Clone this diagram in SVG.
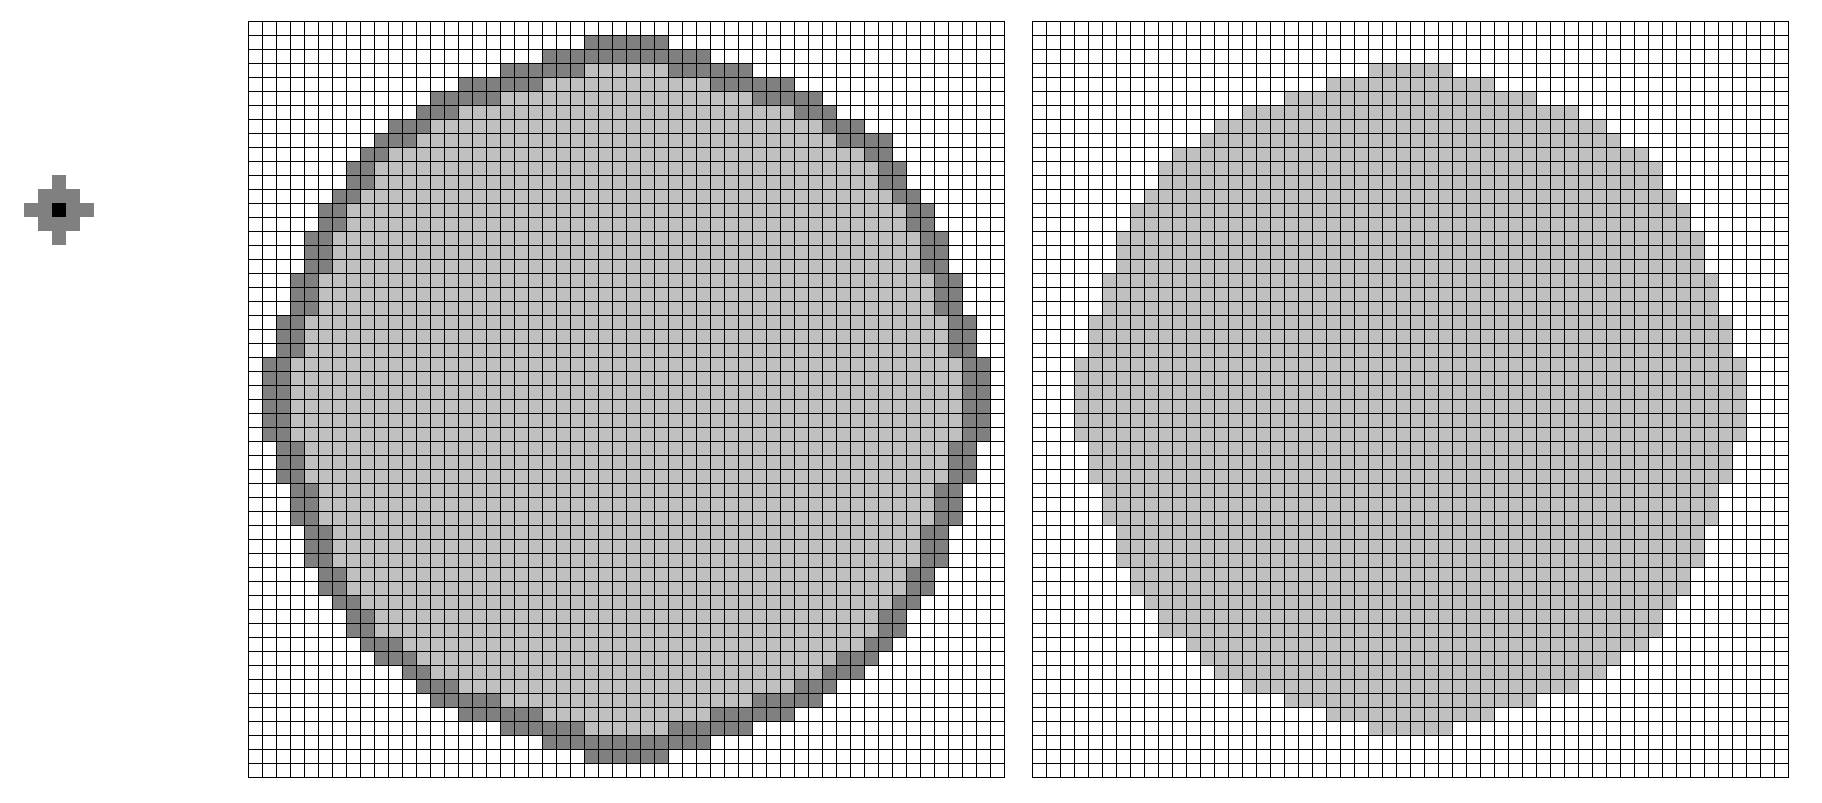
<svg xmlns="http://www.w3.org/2000/svg" xmlns:xlink="http://www.w3.org/1999/xlink" width="1822" height="803" viewBox="0 0 1822 803">
<style>
.dark{fill:#808080}
.light{fill:#c0c0c0}
.black{fill:#000000}
.grid{fill:none;stroke:#000000;stroke-width:1;stroke-linecap:square}
</style>
<defs>
<path id="gridlines" class="grid" d="M248.5 21.5v756
m14-756v756m14-756v756m14-756v756m14-756v756m14-756v756m14-756v756m14-756v756m14-756v756m14-756v756
m14-756v756m14-756v756m14-756v756m14-756v756m14-756v756m14-756v756m14-756v756m14-756v756m14-756v756
m14-756v756m14-756v756m14-756v756m14-756v756m14-756v756m14-756v756m14-756v756m14-756v756m14-756v756
m14-756v756m14-756v756m14-756v756m14-756v756m14-756v756m14-756v756m14-756v756m14-756v756m14-756v756
m14-756v756m14-756v756m14-756v756m14-756v756m14-756v756m14-756v756m14-756v756m14-756v756m14-756v756
m14-756v756m14-756v756m14-756v756m14-756v756m14-756v756m14-756v756m14-756v756m14-756v756m14-756v756
M248.5 21.5h756
m-756 14h756m-756 14h756m-756 14h756m-756 14h756m-756 14h756m-756 14h756m-756 14h756m-756 14h756m-756 14h756
m-756 14h756m-756 14h756m-756 14h756m-756 14h756m-756 14h756m-756 14h756m-756 14h756m-756 14h756m-756 14h756
m-756 14h756m-756 14h756m-756 14h756m-756 14h756m-756 14h756m-756 14h756m-756 14h756m-756 14h756m-756 14h756
m-756 14h756m-756 14h756m-756 14h756m-756 14h756m-756 14h756m-756 14h756m-756 14h756m-756 14h756m-756 14h756
m-756 14h756m-756 14h756m-756 14h756m-756 14h756m-756 14h756m-756 14h756m-756 14h756m-756 14h756m-756 14h756
m-756 14h756m-756 14h756m-756 14h756m-756 14h756m-756 14h756m-756 14h756m-756 14h756m-756 14h756m-756 14h756"/>
<g id="eroded" class="light" transform="translate(248.5 21.5) scale(14)">
<rect x="24" y="3" width="6" height="1"/>
<rect x="21" y="4" width="12" height="1"/>
<rect x="18" y="5" width="18" height="1"/>
<rect x="15" y="6" width="24" height="1"/>
<rect x="13" y="7" width="28" height="1"/>
<rect x="12" y="8" width="30" height="1"/>
<rect x="10" y="9" width="34" height="1"/>
<rect x="9" y="10" width="36" height="2"/>
<rect x="8" y="12" width="38" height="1"/>
<rect x="7" y="13" width="40" height="2"/>
<rect x="6" y="15" width="42" height="3"/>
<rect x="5" y="18" width="44" height="3"/>
<rect x="4" y="21" width="46" height="3"/>
<rect x="3" y="24" width="48" height="6"/>
<rect x="4" y="30" width="46" height="3"/>
<rect x="5" y="33" width="44" height="3"/>
<rect x="6" y="36" width="42" height="3"/>
<rect x="7" y="39" width="40" height="2"/>
<rect x="8" y="41" width="38" height="1"/>
<rect x="9" y="42" width="36" height="2"/>
<rect x="11" y="44" width="33" height="1"/>
<rect x="12" y="45" width="30" height="1"/>
<rect x="13" y="46" width="28" height="1"/>
<rect x="15" y="47" width="24" height="1"/>
<rect x="18" y="48" width="18" height="1"/>
<rect x="21" y="49" width="12" height="1"/>
<rect x="24" y="50" width="6" height="1"/>
</g>
</defs>

<g id="structuring-element">
<rect class="dark" x="52" y="175" width="14" height="14"/>
<rect class="dark" x="38" y="189" width="42" height="14"/>
<rect class="dark" x="24" y="203" width="70" height="14"/>
<rect class="dark" x="38" y="217" width="42" height="14"/>
<rect class="dark" x="52" y="231" width="14" height="14"/>
<rect class="black" x="52" y="203" width="14" height="14"/>
</g>

<g id="input-grid">
<rect x="248.5" y="21.5" width="756" height="756" fill="#ffffff"/>
<g id="disk" class="dark" transform="translate(248.5 21.5) scale(14)">
<rect x="24" y="1" width="6" height="1"/>
<rect x="21" y="2" width="12" height="1"/>
<rect x="18" y="3" width="18" height="1"/>
<rect x="15" y="4" width="24" height="1"/>
<rect x="13" y="5" width="28" height="1"/>
<rect x="12" y="6" width="30" height="1"/>
<rect x="10" y="7" width="34" height="1"/>
<rect x="9" y="8" width="37" height="1"/>
<rect x="8" y="9" width="38" height="1"/>
<rect x="7" y="10" width="40" height="2"/>
<rect x="6" y="12" width="42" height="1"/>
<rect x="5" y="13" width="44" height="2"/>
<rect x="4" y="15" width="46" height="3"/>
<rect x="3" y="18" width="48" height="3"/>
<rect x="2" y="21" width="50" height="3"/>
<rect x="1" y="24" width="52" height="6"/>
<rect x="2" y="30" width="50" height="3"/>
<rect x="3" y="33" width="48" height="3"/>
<rect x="4" y="36" width="46" height="3"/>
<rect x="5" y="39" width="44" height="2"/>
<rect x="6" y="41" width="42" height="1"/>
<rect x="7" y="42" width="40" height="2"/>
<rect x="8" y="44" width="38" height="1"/>
<rect x="9" y="45" width="36" height="1"/>
<rect x="11" y="46" width="33" height="1"/>
<rect x="12" y="47" width="30" height="1"/>
<rect x="13" y="48" width="28" height="1"/>
<rect x="15" y="49" width="24" height="1"/>
<rect x="18" y="50" width="18" height="1"/>
<rect x="21" y="51" width="12" height="1"/>
<rect x="24" y="52" width="6" height="1"/>
</g>
<use xlink:href="#eroded" href="#eroded"/>
<use xlink:href="#gridlines" href="#gridlines"/>
</g>

<g id="output-grid">
<rect x="1032.5" y="21.5" width="756" height="756" fill="#ffffff"/>
<use xlink:href="#eroded" href="#eroded" x="784"/>
<use xlink:href="#gridlines" href="#gridlines" x="784"/>
</g>
</svg>
